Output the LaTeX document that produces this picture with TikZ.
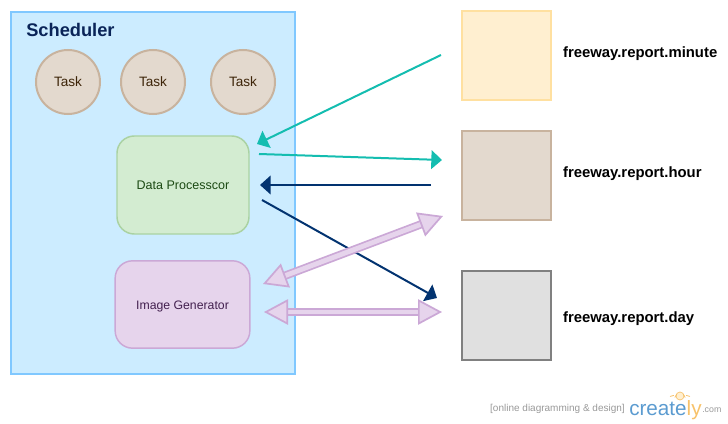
\documentclass[tikz,border=0pt]{standalone}
\usepackage{fontspec}
\setmainfont{Liberation Sans}
\usetikzlibrary{positioning, arrows.meta}
\definecolor{schedfill}{HTML}{CCECFF}
\definecolor{schededge}{HTML}{80C8FF}
\definecolor{schedtext}{HTML}{0A2458}
\definecolor{taskfill}{HTML}{E3D9CE}
\definecolor{taskedge}{HTML}{C8B39E}
\definecolor{taskink}{HTML}{3D2408}
\definecolor{procfill}{HTML}{D3ECD1}
\definecolor{procedge}{HTML}{AAD2A2}
\definecolor{procink}{HTML}{1C4A14}
\definecolor{imgfill}{HTML}{E6D4EC}
\definecolor{imgedge}{HTML}{CBA8D6}
\definecolor{imgink}{HTML}{43204F}
\definecolor{minfill}{HTML}{FFEFD0}
\definecolor{minedge}{HTML}{FFE0A0}
\definecolor{dayfill}{HTML}{E0E0E0}
\definecolor{dayedge}{HTML}{808080}
\definecolor{teal}{HTML}{14BDB0}
\definecolor{navy}{HTML}{023370}
\definecolor{logoblue}{HTML}{5B9BD0}
\definecolor{logoorange}{HTML}{F7C26B}
\begin{document}
\begin{tikzpicture}[
    x=0.75pt, y=-0.75pt,
    task/.style={circle, draw=taskedge, fill=taskfill, line width=1.5pt, minimum size=48pt, inner sep=0pt, text=taskink, font=\fontsize{10.2}{12}\selectfont},
    proc/.style={draw, rounded corners=13pt, line width=1.1pt, align=center, inner sep=0pt},
    store/.style={draw, line width=1.1pt, minimum width=66.75pt, minimum height=66.75pt, inner sep=0pt},
    storelabel/.style={right=8.3pt of #1, inner sep=0pt, font=\fontsize{11.15}{13}\selectfont\bfseries},
    arr/.style={-{Triangle[length=8pt, width=14pt]}, line width=1.5pt},
    fatarr/.style={{Triangle[length=18pt, width=19pt, fill=imgfill, line width=1.3pt]}-{Triangle[length=18pt, width=19pt, fill=imgfill, line width=1.3pt]}, draw=imgedge, line width=1.3pt, double=imgfill, double distance=3.6pt}]
    \useasboundingbox (0,0) rectangle (728,424);
    \node[draw=schededge, fill=schedfill, line width=1.2pt, minimum width=213pt, minimum height=271.5pt, inner sep=0pt] (sched) at (153,193) {};
    \node[anchor=west, inner sep=0pt, text=schedtext, font=\fontsize{13.7}{16}\selectfont\bfseries] (schedtitle) at (26,30) {Scheduler};
    \node[task] (task1) at (68,82) {\raisebox{1pt}{Task}};
    \node[task] (task2) at (153,82) {Task};
    \node[task] (task3) at (243,82) {Task};
    \node[proc, draw=procedge, fill=procfill, text=procink, minimum width=99pt, minimum height=73.5pt, font=\fontsize{9.4}{11}\selectfont] (proc) at (183,185) {Data Processcor};
    \node[proc, draw=imgedge, fill=imgfill, text=imgink, minimum width=101pt, minimum height=65.5pt, font=\fontsize{9.2}{11}\selectfont] (img) at (182.5,304.5) {\raisebox{-4pt}[0pt][0pt]{Image Generator}};
    \node[store, draw=minedge, fill=minfill] (minute) at (506.5,55.5) {};
    \node[store, draw=taskedge, fill=taskfill] (hour) at (506.5,175.5) {};
    \node[store, draw=dayedge, fill=dayfill] (day) at (506.5,315.5) {};
    \node[storelabel=minute, yshift=1.5pt] (minutelabel) {freeway.report.minute};
    \node[storelabel=hour, yshift=1.5pt] (hourlabel) {freeway.report.hour};
    \node[storelabel=day, yshift=-2.25pt] (daylabel) {freeway.report.day};
    % connector ends
    \coordinate (minuteout) at (441,55);
    \coordinate (procin) at (257,144);
    \coordinate (procout) at (259,154);
    \coordinate (hourin) at (442,160);
    \coordinate (hourout) at (431,185);
    \coordinate (procback) at (260,185);
    \coordinate (procday) at (262,200);
    \coordinate (dayin) at (437,298);
    \coordinate (imgup) at (263,284);
    \coordinate (hourfat) at (443,216);
    \coordinate (imgside) at (264,312);
    \coordinate (dayfat) at (442,312);
    \draw[arr, teal] (minuteout) -- (procin);
    \draw[arr, teal] (procout) -- (hourin);
    \draw[arr, navy] (hourout) -- (procback);
    \draw[arr, navy] (procday) -- (dayin);
    \draw[fatarr] (imgup) -- (hourfat);
    \draw[fatarr] (imgside) -- (dayfat);
    % logo
    \node[anchor=east, inner sep=0pt, text=gray!80, font=\fontsize{7.5}{9}\selectfont] (tagline) at (625,409) {[online diagramming \& design]};
    \node[anchor=west, inner sep=0pt, text=logoblue, font=\fontsize{15.5}{18}\selectfont] (logo) at (629,410) {create\textcolor{logoorange}{ly}};
    \node[anchor=west, inner sep=0pt, text=gray!80, font=\fontsize{6.6}{8}\selectfont] (logocom) at (702,410) {.com};
    \node[circle, draw=logoorange, fill=minfill, line width=0.5pt, minimum size=6pt, inner sep=0pt] (bulb) at (680,396) {};
    \foreach \a in {15,60,120,165}
      \draw[logoorange, line width=0.6pt] (bulb.\a) ++(\a:2) -- ++(\a:4);
  \end{tikzpicture}
\end{document}
